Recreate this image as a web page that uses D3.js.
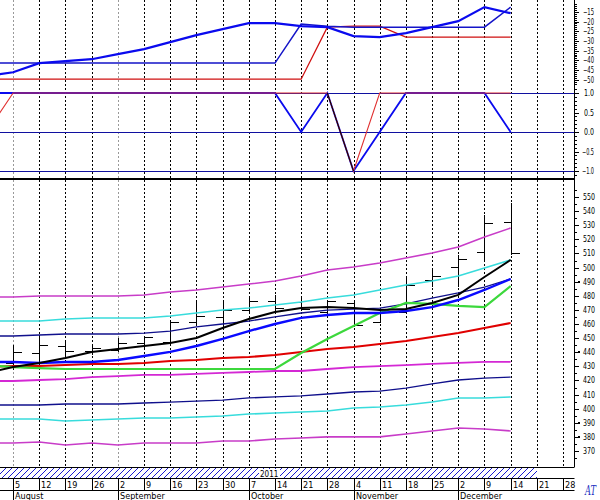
<!DOCTYPE html>
<html><head><meta charset="utf-8">
<script src="https://cdn.jsdelivr.net/npm/d3@7"></script>
<style>
body{margin:0;background:#fff}
svg{display:block}
text{font-family:"DejaVu Sans Condensed","Liberation Sans Narrow","DejaVu Sans",sans-serif;font-size:9px;fill:#000}
</style>
</head><body><svg id="c" width="600" height="500"></svg>
<script>
// ---------- DATA ----------
const dayLabels=["5","12","19","26","2","9","16","23","30","7","14","21","28","4","11","18","25","2","9","14","21","28"];
const monthLabels=["August","September","October","November","December"];
const monthWeek=[0,4,9,13,17];
const yearLabel="2011";
const mainTicks=[370,380,390,400,410,420,430,440,450,460,470,480,490,500,510,520,530,540,550];
const markedLevels=[490,440,390,380];
const oscTicks=[-15,-20,-25,-30,-35,-40,-45,-50];
const dirTicks=[1.0,0.5,0.0,-0.5,-1.0];

// weekly OHLC, weeks 0..19
const open =[432.4,439.4,444.4,440.9,441.6,446.5,447.2,461.4,465.0,469.9,476.3,475.6,468.5,474.9,461.4,468.5,491.2,500.4,511.0,532.3];
const high =[445.1,452.2,448.7,445.1,450.1,450.8,462.8,477.0,477.0,479.1,480.6,479.1,477.0,475.6,469.9,492.6,498.3,508.9,537.2,545.7];
const low  =[427.4,430.9,435.9,438.0,440.2,443.0,445.1,459.3,457.9,467.8,468.5,469.2,467.8,457.9,460.7,467.8,486.2,486.2,505.4,508.9];
const close=[440.2,445.1,440.9,443.0,446.5,450.8,461.4,465.7,469.9,476.3,471.3,470.6,476.3,459.3,468.5,487.6,494.0,506.1,531.6,510.3];

// indicator lines, weeks -1..19
const bandUpperOuter=[479.1,479.1,479.8,479.8,479.8,479.8,480.6,482.7,484.1,486.2,488.3,490.5,494.0,498.3,500.4,503.2,506.8,510.3,514.6,521.7,528.0];
const bandUpperInner=[462.1,462.1,462.1,463.5,464.3,464.3,464.3,465.7,467.8,469.9,471.3,473.5,475.6,478.4,480.6,484.1,487.6,490.5,494.0,499.7,505.4];
const bandMid=[451.5,451.5,452.2,452.9,452.9,452.9,453.6,455.0,457.9,460.0,462.1,465.0,467.8,469.9,470.6,471.3,474.2,478.4,482.0,486.2,491.9];
const maFast=[425.3,429.5,432.4,435.9,440.2,442.3,444.4,446.5,450.1,457.2,463.5,468.5,471.3,472.0,471.3,469.9,470.6,474.9,480.6,493.3,505.4];
const maMid=[433.1,433.1,432.4,433.1,433.1,434.5,437.3,440.2,444.4,449.4,455.0,460.0,464.3,466.4,467.8,467.8,469.2,472.0,477.0,484.1,491.9];
const maSlow=[429.5,430.2,430.2,430.9,431.7,431.7,432.4,433.8,434.5,435.9,436.6,438.0,440.2,442.3,443.7,445.8,448.0,450.8,453.6,457.2,460.7];
const trendStop=[430.9,429.5,428.8,428.1,428.1,428.1,428.1,428.1,428.1,428.1,428.1,428.1,439.4,449.4,458.6,467.8,474.9,474.2,472.8,472.0,486.9];
const bandLowerInner=[419.6,419.6,420.3,421.0,422.4,423.1,423.9,423.9,424.6,425.3,426.0,426.7,426.7,428.1,429.5,430.2,430.9,431.7,432.4,433.1,433.1];
const bandLowerMid=[402.6,402.6,402.6,403.3,403.3,403.3,404.0,404.7,405.4,406.1,407.6,408.3,409.0,410.4,411.8,412.5,414.6,417.5,420.3,421.7,422.4];
const bandLowerCyan=[392.7,392.7,392.7,391.3,392.0,392.7,393.4,393.4,394.1,394.8,396.2,396.9,397.6,398.3,400.5,401.2,402.6,404.7,407.6,407.6,408.3];
const bandLowerOuter=[375.7,375.7,376.4,374.3,375.7,374.3,375.7,375.7,375.7,377.1,377.1,378.5,379.2,380.0,380.0,380.0,382.0,384.2,386.3,385.6,384.2];

// top oscillator, weeks -1..19
const oscFast=[-48.1,-46.1,-41.4,-40.4,-39.4,-36.8,-34.2,-30.6,-27.0,-23.9,-20.8,-20.8,-22.4,-22.9,-27.5,-28.0,-26.0,-22.9,-19.8,-12.6,-15.7];
const oscSlow=[-41.4,-41.4,-41.4,-41.4,-41.4,-41.4,-41.4,-41.4,-41.4,-41.4,-41.4,-41.4,-21.3,-22.4,-22.9,-22.9,-22.9,-22.9,-22.9,-22.9,-12.6];
const oscSignal=[-49.7,-49.7,-49.7,-49.7,-49.7,-49.7,-49.7,-49.7,-49.7,-49.7,-49.7,-49.7,-49.7,-22.9,-22.4,-22.4,-28.0,-28.0,-28.0,-28.0,-28.0];

// direction panel, weeks -1..19
const dirBlue=[1,1,1,1,1,1,1,1,1,1,1,1,0,1,-1,0,1,1,1,1,0];
const dirRed=[0,1,1,1,1,1,1,1,1,1,1,1,1,1,-1,1,1,1,1,1,1];
const dirBlack=[null,null,null,null,null,null,null,null,null,null,null,null,null,1,-1,null,null,null,null,null,null];
const dirLevels=[1,0,-1];

// ---------- DRAW ----------
const svg=d3.select("#c");
const AX=574.5;
const x=d3.scaleLinear().domain([-0.5,21.42]).range([0,574]);
const yMain=d3.scaleLinear().domain([370,550]).range([451,197]);
const yOsc=d3.scaleLinear().domain([-50,-15]).range([79.8,11.8]);
const yDir=d3.scaleLinear().domain([-1,1]).range([171,93]);

const defs=svg.append("defs");
defs.append("clipPath").attr("id","cTop").append("rect").attr("x",0).attr("y",0).attr("width",574).attr("height",177);
defs.append("clipPath").attr("id","cMain").append("rect").attr("x",0).attr("y",181).attr("width",574).attr("height",285);
const pat=defs.append("pattern").attr("id","hatch").attr("patternUnits","userSpaceOnUse").attr("width",6).attr("height",6);
pat.append("path").attr("d","M-1,1 L1,-1 M0,6 L6,0 M5,7 L7,5").attr("stroke","#1a1ad0").attr("stroke-width",1);

// vertical dashed grid
const weeksAll=d3.range(dayLabels.length);
svg.append("g").selectAll("line").data(weeksAll).join("line")
  .attr("x1",d=>Math.round(x(d))+0.5).attr("x2",d=>Math.round(x(d))+0.5)
  .attr("y1",0).attr("y2",467)
  .attr("stroke",d=>(d===0||d===4)?"#999":"#000")
  .attr("stroke-dasharray","2,2").attr("stroke-width",1);

const lineGen=(ys)=>d3.line().defined(d=>d!=null).x((d,k)=>x(k-1)).y(d=>ys(d));

// ---- top oscillator panel
const gTop=svg.append("g").attr("clip-path","url(#cTop)");
[[oscSignal,"#d01010",1.3],[oscSlow,"#1414c8",1.5],[oscFast,"#0a0aee",2.2]].forEach(([arr,c,w])=>{
  gTop.append("path").datum(arr).attr("d",lineGen(yOsc)).attr("fill","none").attr("stroke",c).attr("stroke-width",w);
});

// ---- direction panel
gTop.selectAll("line.lvl").data(dirLevels).join("line").attr("class","lvl")
  .attr("x1",0).attr("x2",574).attr("y1",d=>Math.round(yDir(d))+0.5).attr("y2",d=>Math.round(yDir(d))+0.5)
  .attr("stroke","#1010a0").attr("stroke-width",1.2);
[[dirBlue,"#0a0aee",1.8],[dirRed,"#e03030",1.1],[dirBlack,"#000",1]].forEach(([arr,c,w])=>{
  gTop.append("path").datum(arr).attr("d",lineGen(yDir)).attr("fill","none").attr("stroke",c).attr("stroke-width",w);
});

// separator
svg.append("line").attr("x1",0).attr("x2",AX).attr("y1",179).attr("y2",179).attr("stroke","#000").attr("stroke-width",2.2);

// ---- main panel
const gMain=svg.append("g").attr("clip-path","url(#cMain)");
const mainLines=[
  [bandLowerOuter,"#c83cc8",1.6],
  [bandLowerCyan,"#38dcdc",1.6],
  [bandLowerMid,"#10108c",1.3],
  [bandLowerInner,"#d428d4",1.8],
  [bandUpperOuter,"#c83cc8",1.6],
  [bandUpperInner,"#38dcdc",1.6],
  [bandMid,"#10108c",1.3],
  [maSlow,"#e00000",2],
  [trendStop,"#3cd83c",2.2],
  [maMid,"#0a0aff",2.4],
  [maFast,"#000",2]
];
// candles
const bars=gMain.append("g").attr("stroke","#000").attr("stroke-width",1).attr("shape-rendering","crispEdges");
open.forEach((o,i)=>{
  const cx=Math.round(x(i))+0.5;
  bars.append("line").attr("x1",cx).attr("x2",cx).attr("y1",yMain(high[i])).attr("y2",yMain(low[i]));
  bars.append("line").attr("x1",cx-8).attr("x2",cx).attr("y1",Math.round(yMain(o))+0.5).attr("y2",Math.round(yMain(o))+0.5);
  bars.append("line").attr("x1",cx).attr("x2",cx+8).attr("y1",Math.round(yMain(close[i]))+0.5).attr("y2",Math.round(yMain(close[i]))+0.5);
});
mainLines.forEach(([arr,c,w])=>{
  gMain.append("path").datum(arr).attr("d",lineGen(yMain)).attr("fill","none").attr("stroke",c).attr("stroke-width",w);
});

// ---- right axis
svg.append("line").attr("x1",AX).attr("x2",AX).attr("y1",0).attr("y2",467).attr("stroke","#000");
const axG=svg.append("g").attr("stroke","#000").attr("shape-rendering","crispEdges");
const lab=(sel)=>sel.style("font-size","8px").attr("lengthAdjust","spacingAndGlyphs");
// main ticks
d3.range(365,556,5).forEach(v=>{
  const yy=Math.round(yMain(v))+0.5; const major=v%10===0;
  axG.append("line").attr("x1",AX).attr("x2",AX+(major?4:2)).attr("y1",yy).attr("y2",yy);
});
svg.append("g").selectAll("text").data(mainTicks).join("text")
  .attr("x",583).attr("y",d=>yMain(d)+3).attr("textLength",12).call(lab).text(d=>d3.format("d")(d));
svg.append("g").selectAll("rect").data(markedLevels).join("rect")
  .attr("x",578).attr("y",d=>Math.round(yMain(d))-1).attr("width",2).attr("height",2).attr("fill","#000");
// osc ticks
d3.range(-52,-10,1).forEach(v=>{
  const yy=Math.round(yOsc(v))+0.5; const major=v%5===0;
  if(yy<1||yy>87) return;
  axG.append("line").attr("x1",AX).attr("x2",AX+(major?4:2)).attr("y1",yy).attr("y2",yy);
});
svg.append("g").selectAll("text").data(oscTicks).join("text")
  .attr("x",583).attr("y",d=>yOsc(d)+3).attr("textLength",11).call(lab).text(d=>d3.format("d")(d));
// dir ticks
d3.range(-11,12,1).forEach(k=>{
  const v=k/10; const yy=Math.round(yDir(v))+0.5; const major=k%5===0;
  axG.append("line").attr("x1",AX).attr("x2",AX+(major?4:2)).attr("y1",yy).attr("y2",yy);
});
svg.append("g").selectAll("text").data(dirTicks).join("text")
  .attr("x",d=>d<0?582:584).attr("y",d=>yDir(d)+3).attr("textLength",d=>d<0?12:10).call(lab).text(d=>d3.format(".1f")(d));

// ---- time axis band
svg.append("rect").attr("x",0).attr("y",467).attr("width",537).attr("height",11.5).attr("fill","url(#hatch)");
svg.append("rect").attr("x",259).attr("y",469).attr("width",21).attr("height",9).attr("fill","#fff");
svg.append("text").attr("x",260).attr("y",477).style("font-size","8px").text(yearLabel);
[467.5,478.5,490.5].forEach(yy=>svg.append("line").attr("x1",0).attr("x2",AX).attr("y1",yy).attr("y2",yy).attr("stroke","#000"));
const dayG=svg.append("g");
dayG.selectAll("line").data(weeksAll).join("line")
  .attr("x1",d=>Math.round(x(d))+0.5).attr("x2",d=>Math.round(x(d))+0.5)
  .attr("y1",479).attr("y2",490).attr("stroke","#000");
dayG.selectAll("text").data(dayLabels).join("text")
  .attr("x",(d,i)=>Math.round(x(i))+2).attr("y",488).text(d=>d);
const monG=svg.append("g");
monG.selectAll("line").data(monthWeek).join("line")
  .attr("x1",d=>Math.round(x(d))+0.5).attr("x2",d=>Math.round(x(d))+0.5)
  .attr("y1",491).attr("y2",500).attr("stroke","#000");
monG.selectAll("text").data(monthLabels).join("text")
  .attr("x",(d,i)=>Math.round(x(monthWeek[i]))+2).attr("y",499).text(d=>d);

// logo
svg.append("text").attr("x",585).attr("y",495).attr("textLength",11).attr("lengthAdjust","spacingAndGlyphs")
  .style("font-size","12px").style("font-style","italic")
  .style("font-family","DejaVu Serif, serif").style("fill","#2030c0").text("AT");
</script>
</body></html>
